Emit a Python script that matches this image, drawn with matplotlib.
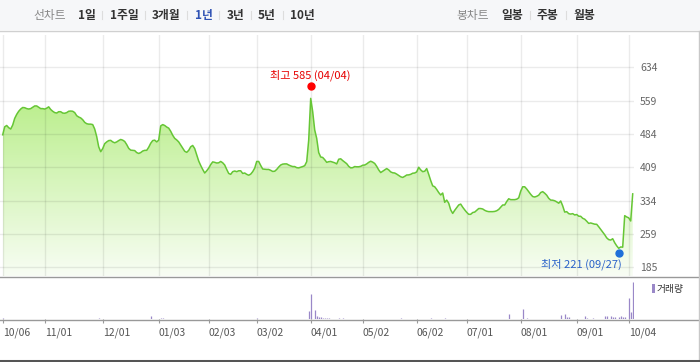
#!/usr/bin/env python3
# -*- coding: utf-8 -*-
"""1-year line chart with volume panel (stock quote widget style)."""

import matplotlib.pyplot as plt
import numpy as np
from matplotlib import transforms
from matplotlib.colors import LinearSegmentedColormap
from matplotlib.lines import Line2D
from matplotlib.patches import Polygon, Rectangle

plt.rcParams['font.family'] = ['Noto Sans CJK KR', 'DejaVu Sans']

# --- data --------------------------------------------------------------------
price = [
    482, 500, 503, 498, 495, 504, 519, 528, 535, 540,
    543.5, 543, 541, 540, 541, 544, 547, 547, 544, 541,
    541, 540, 542, 545, 539, 535, 532, 531, 534, 534,
    531, 530.5, 532, 535, 535.5, 535, 532, 525, 522, 520,
    516, 510, 507, 506, 506, 505, 495, 478, 455, 444,
    451, 462, 466, 469, 469.5, 466, 464, 466, 469, 471.5,
    470, 467, 460, 451.5, 447.5, 447, 446.5, 442, 440, 442,
    445.5, 447, 447, 454, 463, 469, 470, 466, 470, 502,
    505, 503, 499.5, 497, 490, 481, 474, 470.5, 466, 459,
    452, 445, 442.5, 447, 455, 458, 451, 437, 423, 413,
    404, 396, 401, 407, 415, 421, 420, 418.5, 419, 422,
    419, 414, 404, 395, 393, 399, 400.5, 399, 401, 401,
    395, 396, 393, 391, 393.5, 399, 407, 422, 422, 413,
    405, 404.5, 404, 404, 402, 399.5, 400, 404, 409.5, 414,
    416, 416.5, 416.5, 414, 412, 410.5, 410.5, 408, 407.5, 409,
    410.5, 412.5, 421.5, 470, 564, 534, 493, 474, 442, 432,
    431, 426, 420, 421.5, 422, 420.5, 419, 416.5, 427, 428,
    424, 420.5, 417, 411, 407.5, 408, 410.5, 410, 410, 411,
    413.5, 414, 416.5, 420, 422.5, 420.5, 417.5, 411, 403, 397,
    400, 403, 406, 403, 398.5, 396.5, 396, 393.5, 390.5, 387.5,
    386, 388.5, 391.5, 391.75, 393, 395.5, 396, 398.5, 409, 403,
    399, 400, 406, 393, 379, 367, 365, 359, 352, 346.5,
    351, 330, 335, 328, 313, 305, 312, 318, 324, 326,
    319, 313, 307.5, 303, 303, 307, 308, 312, 316, 316,
    315, 312, 310, 309, 309, 309, 309.5, 311, 314, 319,
    324, 324, 331.75, 338, 336, 336, 336, 337, 340, 355,
    365, 365, 360, 354, 348, 343, 342, 343.5, 346, 352,
    354, 350.5, 346, 339, 335, 334.75, 333.5, 331, 328, 333,
    322, 308, 309, 304.5, 303.5, 304.5, 301.5, 302.5, 298.75, 298.5,
    294, 292, 287.5, 282.5, 283.5, 282, 280.75, 280.5, 275, 269,
    263, 257, 250, 246, 245, 248, 239, 232, 226.5, 229.5,
    229, 300, 297, 295, 288, 349,
]

# volume (arbitrary units), only the days with a visible bar
vol_idx = [0, 48, 74, 79, 80, 127, 153, 154, 156, 157, 158, 159, 160, 161,
           162, 163, 168, 170, 199, 214, 221, 253, 260, 262, 279, 281, 282,
           283, 291, 292, 295, 301, 302, 304, 305, 306, 308, 309, 310, 311,
           313, 314, 315]
vol_vals = [13, 10, 27, 10, 10, 10, 83, 253, 87, 33, 23, 23, 13, 13,
            13, 13, 13, 13, 13, 13, 13, 47, 97, 13, 37, 47, 17,
            17, 27, 13, 13, 27, 33, 27, 23, 17, 17, 33, 17, 17,
            207, 67, 367]

tick_pos = [0, 21, 50, 78, 103, 127, 154, 180, 207, 232, 259, 287, 313]
tick_labels = ['10/06', '11/01', '12/01', '01/03', '02/03', '03/02', '04/01',
               '05/02', '06/02', '07/01', '08/01', '09/01', '10/04']
y_ticks = [185, 259, 334, 409, 484, 559, 634]

high_val, high_date = 585, '04/04'
low_val, low_date = 221, '09/27'

range_items = ['1일', '1주일', '3개월', '1년', '3년', '5년', '10년']
range_x = [78, 110, 152, 195, 227, 258, 290]
candle_items = ['일봉', '주봉', '월봉']
candle_x = [501, 537, 573]

# --- figure ------------------------------------------------------------------
W, H = 700, 362


def fx(x):
    return x / W


def fy(y):
    return 1 - y / H


fig = plt.figure(figsize=(7, 3.62), dpi=100)

# header bar
fig.add_artist(Rectangle((0, fy(30)), 1, 30 / H, transform=fig.transFigure,
                         fc='#f6f7f9', ec='none'))
fig.add_artist(Line2D([0, 1], [fy(30.5)] * 2, transform=fig.transFigure,
                      color='#d0d0d0', lw=1))
fig.text(fx(33), fy(15), '선차트', fontsize=8.5, color='#888888', va='center')
fig.text(fx(456), fy(15), '봉차트', fontsize=8.5, color='#888888', va='center')
for s, x in zip(range_items, range_x):
    col = '#2f52b4' if s == '1년' else '#333333'
    fig.text(fx(x), fy(15), s, fontsize=8.5, color=col, weight='bold', va='center')
for s, x in zip(candle_items, candle_x):
    fig.text(fx(x), fy(15), s, fontsize=8.5, color='#333333', weight='bold', va='center')
for x in [102, 145, 187, 219, 251, 283, 530, 566]:
    fig.add_artist(Line2D([fx(x)] * 2, [fy(11), fy(19)], transform=fig.transFigure,
                          color='#dddddd', lw=0.8))

# main price panel
x = np.arange(len(price))
p = np.array(price)
ax = fig.add_axes([0, fy(276), fx(634), (276 - 35) / H])
ax.set_xlim(-1.35, 315.65)
ax.set_ylim(164.1, 706.7)
for sp in ax.spines.values():
    sp.set_visible(False)

# gradient fill under the line
cmap = LinearSegmentedColormap.from_list('g', ['#f8fdf4', '#b9ee8a'])
grad = np.linspace(0, 1, 256).reshape(-1, 1)
im = ax.imshow(grad, cmap=cmap, origin='lower', aspect='auto',
               extent=[x[0], x[-1], 164.1, 570], zorder=1)
verts = np.column_stack([np.r_[x[0], x, x[-1]], np.r_[164.1, p, 164.1]])
poly = Polygon(verts, closed=True, fc='none', ec='none')
ax.add_patch(poly)
im.set_clip_path(poly)

ax.plot(x, p, color='#66c635', lw=1.1, zorder=3)

ax.set_xticks(tick_pos)
ax.set_yticks(y_ticks)
ax.set_axisbelow(False)
ax.grid(color='black', alpha=0.08, lw=1, zorder=2)
ax.tick_params(axis='x', length=0, labelbottom=False)
ax.yaxis.tick_right()
ax.tick_params(axis='y', length=0, pad=4.3, labelsize=7.5, labelcolor='#666666')

# high / low markers
hi = int(np.argmax(p))
lo = int(np.argmin(p))
ax.plot(hi, high_val, 'o', ms=5, color='#ff0000', zorder=4, clip_on=False,
        transform=transforms.offset_copy(ax.transData, fig=fig, y=3, units='dots'))
ax.text(hi, high_val, f'최고 {high_val} ({high_date})', ha='center', va='center',
        fontsize=8, color='#e60000',
        transform=transforms.offset_copy(ax.transData, fig=fig, y=14, units='dots'))
ax.plot(lo, low_val, 'o', ms=5, color='#1e6fd9', zorder=4, clip_on=False,
        transform=transforms.offset_copy(ax.transData, fig=fig, y=-2.6, units='dots'))
ax.text(lo, low_val, f'최저 {low_val} ({low_date})', ha='right', va='center',
        fontsize=8, color='#2a62c9',
        transform=transforms.offset_copy(ax.transData, fig=fig, x=3.5, y=-13.3, units='dots'))

# volume panel
vax = fig.add_axes([0, fy(319), fx(634), 43 / H])
vax.set_xlim(-1.35, 315.65)
vax.set_ylim(0, max(vol_vals) * 43 / 36.7)
for sp in vax.spines.values():
    sp.set_visible(False)
vax.vlines(vol_idx, 0, vol_vals, color='#9a88c8', lw=0.9)
vax.set_yticks([])
vax.set_xticks(tick_pos)
vax.set_xticklabels(tick_labels)
vax.tick_params(axis='x', length=2.9, color='#999999', labelsize=7.5,
                labelcolor='#555555', pad=3.5)
for lbl in vax.get_xticklabels():
    lbl.set_ha('left')

# legend
fig.add_artist(Rectangle((fx(652), fy(293)), 2.5 / W, 9 / H, transform=fig.transFigure,
                         fc='#9a88c8', ec='none'))
fig.text(fx(657), fy(289), '거래량', fontsize=7, color='#333333', va='center')

# frame lines
fig.add_artist(Line2D([0, 1], [fy(276.5)] * 2, transform=fig.transFigure, color='#999999', lw=1))
fig.add_artist(Line2D([0, 1], [fy(319.5)] * 2, transform=fig.transFigure, color='#999999', lw=1))
fig.add_artist(Line2D([fx(699)] * 2, [fy(31), 0], transform=fig.transFigure, color='#c8c8c8', lw=1))
fig.add_artist(Line2D([0, 1], [fy(360.8)] * 2, transform=fig.transFigure, color='#555555', lw=2.2))

fig.savefig('out.png', dpi=100)
